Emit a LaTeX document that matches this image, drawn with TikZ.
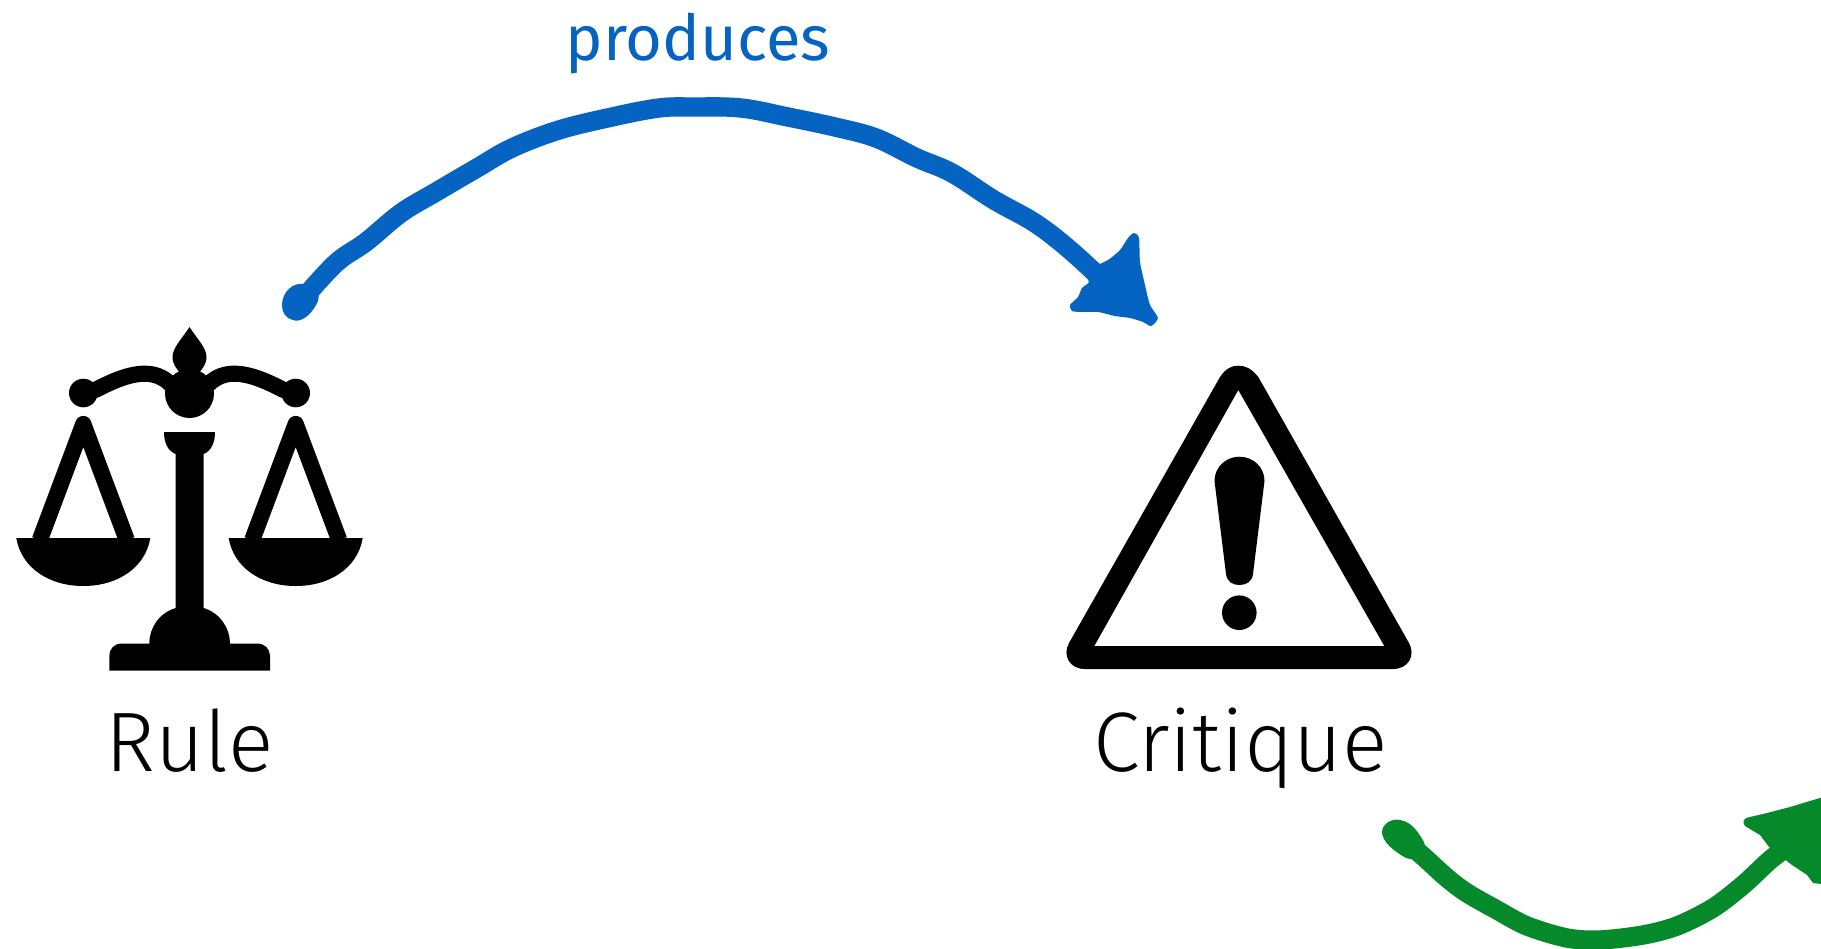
\documentclass[tikz,border=0pt]{standalone}
\usepackage{fontspec}
\newfontfamily\labelfont{Fira Sans Light}
\newfontfamily\arcfont{Fira Sans}
\definecolor{producesblue}{HTML}{0563C1}
\definecolor{nextgreen}{HTML}{05892B}
\tikzset{
  iconlabel/.style={anchor=base, font=\labelfont\fontsize{24}{28}\selectfont},
  arclabel/.style={anchor=base, text=producesblue, font=\arcfont\fontsize{18}{22}\selectfont},
  arcline/.style={line width=5.5pt, line cap=round, line join=round},
  strap/.style={line width=4.6pt, line join=round},
  beam/.style={line width=4.6pt, line cap=round},
}

\begin{document}
\begin{tikzpicture}[x=0.01cm, y=-0.01cm]
    \clip (0, 0) rectangle (1821, 948);

    % Scales
    \fill (189.5, 327) .. controls (198, 340) and (206.5, 348) .. (206.5, 357)
        .. controls (206.5, 365) and (201, 370) .. (199, 373) -- (180, 373)
        .. controls (178, 370) and (172.5, 365) .. (172.5, 357)
        .. controls (172.5, 348) and (181, 340) .. (189.5, 327) -- cycle;
    \fill (189.5, 393.5) circle (24.5);
    \foreach \panx/\dirx in {83.3/1, 295.7/-1} {
        \fill (\panx, 393) circle (14.3);
        \draw[beam] (\panx + \dirx * 12, 390) .. controls (\panx + \dirx * 37, 377) and (\panx + \dirx * 67, 364) .. (\panx + \dirx * 87, 384);
        \draw[strap] (\panx - 43.5, 540) -- (\panx, 424) -- (\panx + 43.5, 540);
        \fill (\panx - 67, 538) .. controls (\panx - 62, 568) and (\panx - 34, 586) .. (\panx, 586)
            .. controls (\panx + 34, 586) and (\panx + 62, 568) .. (\panx + 67, 538) -- cycle;
    }

    % Stand
    \fill (164, 432) -- (215, 432) .. controls (215, 443) and (211, 451) .. (203.7, 454)
        -- (203.7, 608) .. controls (220, 613) and (230, 628) .. (230, 643.5)
        -- (257, 643.5) .. controls (265, 643.5) and (270, 649) .. (270, 656) -- (270, 670.7)
        -- (109.3, 670.7) -- (109.3, 656) .. controls (109.3, 649) and (114, 643.5) .. (122, 643.5)
        -- (149.3, 643.5) .. controls (149.3, 628) and (159, 613) .. (175.7, 608)
        -- (175.7, 454) .. controls (168, 451) and (164, 443) .. (164, 432) -- cycle;
    \node[iconlabel] (rulelabel) at (189.5, 771.7) {Rule};

    % Warning sign
    \fill[even odd rule] (1220, 377) .. controls (1226, 368) and (1232, 365.7) .. (1238.3, 365.7)
        .. controls (1245, 365.7) and (1251, 368) .. (1258.3, 377) -- (1409, 643)
        .. controls (1416, 656) and (1408, 669) .. (1393, 669) -- (1085, 669)
        .. controls (1070, 669) and (1062, 656) .. (1069, 643) -- cycle
        (1238.3, 390) -- (1384.3, 646) -- (1094.3, 646) -- cycle;
    \fill (1239.3, 456.7) .. controls (1253, 456.7) and (1264.5, 467) .. (1264.5, 481)
        -- (1253, 574) .. controls (1252, 582) and (1246, 585) .. (1239.3, 585)
        .. controls (1233, 585) and (1227, 582) .. (1226, 574)
        -- (1214.5, 481) .. controls (1214.5, 467) and (1226, 456.7) .. (1239.3, 456.7) -- cycle;
    \fill (1239.3, 612.7) circle (17.3);
    \node[iconlabel] (critiquelabel) at (1240.5, 771.7) {Critique};

    % Ends of the arcs
    \coordinate (rulestart) at (302, 300);
    \coordinate (critiquein) at (1108, 285);
    \coordinate (critiqueout) at (1402, 838);
    \coordinate (nextin) at (1790, 845);

    % Blue arc
    \draw[arcline, producesblue] plot[smooth, tension=0.6] coordinates {(rulestart) (336, 263) (366, 242) (401, 213)
        (436, 192) (477, 168) (512, 148) (559, 130) (612, 117) (659, 108) (694, 107) (741, 108) (788, 117) (835, 127)
        (876, 138) (917, 158) (952, 173) (994, 200) (1035, 223) (1070, 250) (critiquein)};
    \fill[producesblue] (282, 305) .. controls (282, 292) and (293, 282) .. (304, 284)
        .. controls (318, 286) and (322, 296) .. (316, 305) .. controls (310, 316) and (300, 323) .. (293, 320)
        .. controls (285, 318) and (282, 312) .. (282, 305) -- cycle;
    \fill[producesblue] plot[smooth cycle, tension=0.4] coordinates {(1108, 260) (1120, 250) (1128, 238) (1134, 233) (1139, 238)
        (1140, 262) (1145, 285) (1150, 305) (1158, 318) (1151, 326) (1143, 322) (1130, 318) (1115, 316) (1098, 312) (1082, 312)
        (1072, 311) (1070, 305) (1078, 297) (1082, 288) (1089, 282) (1085, 272)};
    \node[arclabel] (produceslabel) at (698, 60) {produces};

    % Green arc
    \draw[arcline, nextgreen] plot[smooth, tension=0.5] coordinates {(critiqueout) (1425, 858) (1447, 878) (1467, 893) (1497, 910)
        (1527, 926) (1567, 938) (1600, 940) (1643, 935) (1677, 926) (1713, 908) (1743, 885) (1770, 860) (nextin)};
    \fill[nextgreen] (1382, 832) .. controls (1382, 824) and (1392, 818) .. (1400, 820)
        .. controls (1412, 822) and (1418, 832) .. (1424, 842) .. controls (1428, 852) and (1416, 862) .. (1406, 858)
        .. controls (1395, 852) and (1382, 842) .. (1382, 832) -- cycle;
    \fill[nextgreen] (1769, 847) -- (1760, 835) -- (1745, 826) .. controls (1742, 822) and (1743, 818) .. (1750, 817)
        -- (1767, 813) -- (1790, 807) -- (1830, 795) -- (1830, 885) -- (1813, 883) -- (1807, 875) -- (1792, 865) -- cycle;
\end{tikzpicture}
\end{document}
